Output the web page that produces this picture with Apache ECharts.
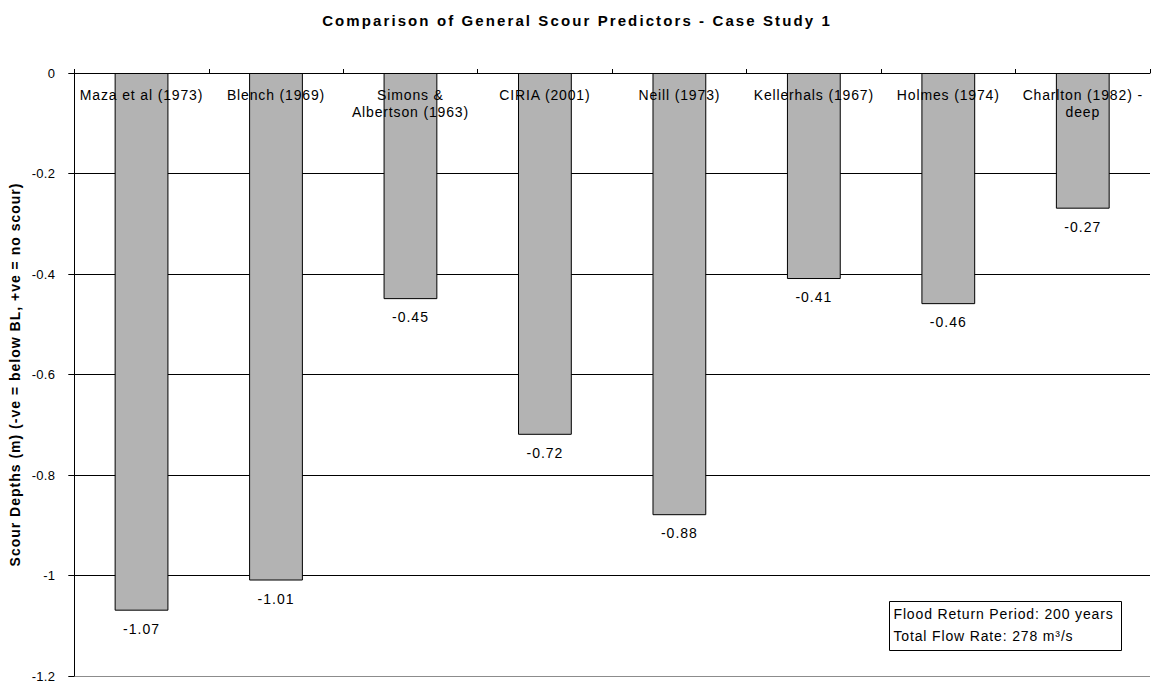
<!DOCTYPE html>
<html>
<head>
<meta charset="utf-8">
<script src="https://cdn.jsdelivr.net/npm/echarts@6/dist/echarts.min.js"></script>
<style>
  html, body { margin: 0; padding: 0; background: #fff; }
  #chart { width: 1154px; height: 685px; }
</style>
</head>
<body>
<div id="chart"></div>
<script>
// Scour predictor names and predicted scour depths (m)
const predictors = [
  'Maza et al (1973)',
  'Blench (1969)',
  'Simons &\nAlbertson (1963)',
  'CIRIA (2001)',
  'Neill (1973)',
  'Kellerhals (1967)',
  'Holmes (1974)',
  'Charlton (1982) -\ndeep'
];
const scourDepths = [-1.07, -1.01, -0.45, -0.72, -0.88, -0.41, -0.46, -0.27];
const noteLines = ['Flood Return Period: 200 years', 'Total Flow Rate: 278 m³/s'];

const TITLE = 'Comparison of General Scour Predictors - Case Study 1';
const Y_NAME = 'Scour Depths (m) (-ve = below BL, +ve = no scour)';
const FONT = '"Liberation Sans", Arial, sans-serif';

const chart = echarts.init(document.getElementById('chart'), null, { renderer: 'svg' });

chart.setOption({
  backgroundColor: '#ffffff',
  animation: false,
  title: {
    text: TITLE,
    left: 'center',
    top: 8,
    textStyle: { fontFamily: FONT, fontSize: 15, fontWeight: 'bold', color: '#000' }
  },
  grid: { left: 72, right: 4, top: 73, bottom: 9, containLabel: false },
  xAxis: {
    type: 'category',
    data: predictors,
    position: 'top',
    z: 5,
    axisLine: { onZero: false, lineStyle: { color: '#000', width: 1 } },
    axisTick: { show: true, alignWithLabel: false, length: 4, lineStyle: { color: '#000' } },
    axisLabel: {
      inside: true,
      margin: 13,
      interval: 0,
      fontFamily: FONT,
      fontSize: 14,
      lineHeight: 17,
      color: '#000',
      verticalAlign: 'top'
    },
    splitLine: { show: false }
  },
  yAxis: {
    type: 'value',
    min: -1.2,
    max: 0,
    interval: 0.2,
    name: Y_NAME,
    nameLocation: 'middle',
    nameRotate: 90,
    nameGap: 47,
    nameTextStyle: { fontFamily: FONT, fontSize: 14, fontWeight: 'bold', color: '#000' },
    axisLine: { show: true, lineStyle: { color: '#000', width: 1 } },
    axisTick: { show: true, length: 6, lineStyle: { color: '#000' } },
    axisLabel: {
      fontFamily: FONT,
      fontSize: 13,
      color: '#000',
      margin: 19,
      formatter: v => String(+v.toFixed(1))
    },
    splitLine: {
      show: true,
      lineStyle: { color: ['#8c8c8c', '#000', '#000', '#000', '#000', '#000', '#000'], width: 1 }
    }
  },
  series: [{
    type: 'bar',
    data: scourDepths,
    barWidth: '40%',
    itemStyle: { color: '#b3b3b3', borderColor: '#000', borderWidth: 1 },
    label: {
      show: true,
      position: 'bottom',
      distance: 11,
      fontFamily: FONT,
      fontSize: 14,
      color: '#000',
      formatter: p => p.value.toFixed(2)
    }
  }],
  graphic: [{
    type: 'group',
    left: 889,
    top: 601,
    children: [
      {
        type: 'rect',
        shape: { x: 0, y: 0, width: 232, height: 49 },
        style: { fill: '#fff', stroke: '#000', lineWidth: 1 }
      },
      {
        type: 'text',
        x: 4,
        y: 1,
        style: {
          text: noteLines.join('\n'),
          fontFamily: FONT,
          fontSize: 14,
          lineHeight: 22,
          fill: '#000'
        }
      }
    ]
  }]
});

// Loose, slightly tracked lettering for the chart texts
function trackText() {
  const texts = document.querySelectorAll('#chart svg text');
  texts.forEach(t => {
    const s = t.textContent.trim();
    let spacing = '0.85px';
    if (s === TITLE) spacing = '2.1px';
    else if (s === Y_NAME) spacing = '1px';
    else if (/^-\d\.\d\d$/.test(s)) spacing = '1px';
    else if (/^-?\d(\.\d)?$/.test(s)) spacing = '0.3px';
    t.style.letterSpacing = spacing;
  });
}
trackText();
chart.on('finished', trackText);
setTimeout(trackText, 50);
</script>
</body>
</html>
